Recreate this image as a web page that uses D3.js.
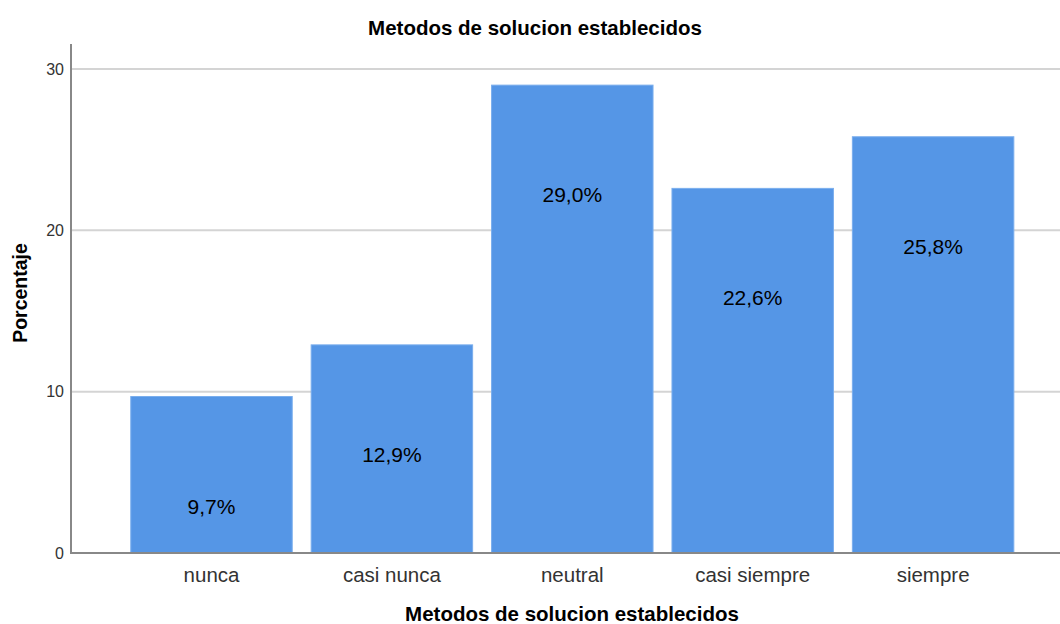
<!DOCTYPE html>
<html>
<head>
<meta charset="utf-8">
<script src="https://cdn.jsdelivr.net/npm/d3@7"></script>
<style>
  body { margin: 0; background: #fff; }
  text { font-family: Arial, "Liberation Sans", sans-serif; }
</style>
</head>
<body>
<div id="chart"></div>
<script>
// chart data
var categories = ["nunca", "casi nunca", "neutral", "casi siempre", "siempre"];
var percents = [9.7, 12.9, 29.0, 22.6, 25.8];
var yTicks = [0, 10, 20, 30];

var width = 1060;
var height = 624;

var svg = d3.select("#chart").append("svg")
    .attr("width", width)
    .attr("height", height);

var plotLeft = 71, plotRight = 1060, plotTop = 44, plotBottom = 553;

var x = d3.scaleBand()
    .domain(categories)
    .range([121.3, 1023.3])
    .paddingInner(0.105)
    .paddingOuter(0.0525);

var y = d3.scaleLinear()
    .domain([0, 30])
    .range([plotBottom, 69]);

// gridlines
svg.append("g")
  .selectAll("line")
  .data(yTicks.filter(function(d) { return d > 0; }))
  .enter()
  .append("line")
  .attr("x1", plotLeft)
  .attr("x2", plotRight)
  .attr("y1", function(d) { return y(d); })
  .attr("y2", function(d) { return y(d); })
  .attr("stroke", "#d4d4d4")
  .attr("stroke-width", 2);

// y axis (labels only, no ticks)
var yAxis = svg.append("g")
  .attr("transform", "translate(" + plotLeft + ",0)")
  .call(d3.axisLeft(y).tickValues(yTicks).tickSize(0).tickPadding(7));
yAxis.select(".domain").remove();
yAxis.selectAll("text")
  .attr("font-size", 16)
  .attr("fill", "#333")
  .style("font-family", "Arial, 'Liberation Sans', sans-serif");

// bars
svg.append("g")
  .selectAll("rect")
  .data(percents)
  .enter()
  .append("rect")
  .attr("x", function(d, i) { return x(categories[i]); })
  .attr("y", function(d) { return y(d); })
  .attr("width", x.bandwidth())
  .attr("height", function(d) { return plotBottom - y(d); })
  .attr("fill", "#5596e6")
  .attr("stroke", "#7aaeed")
  .attr("stroke-width", 1);

// value labels
svg.append("g")
  .selectAll("text")
  .data(percents)
  .enter()
  .append("text")
  .attr("x", function(d, i) { return x(categories[i]) + x.bandwidth() / 2; })
  .attr("y", function(d) { return y(d) + 117; })
  .attr("text-anchor", "middle")
  .attr("font-size", 21)
  .attr("fill", "#000")
  .text(function(d) { return d.toFixed(1).replace(".", ",") + "%"; });

// axis lines
svg.append("line")
  .attr("x1", plotLeft).attr("x2", plotLeft)
  .attr("y1", plotTop).attr("y2", plotBottom)
  .attr("stroke", "#888").attr("stroke-width", 2);
svg.append("line")
  .attr("x1", plotLeft - 1).attr("x2", plotRight)
  .attr("y1", plotBottom).attr("y2", plotBottom)
  .attr("stroke", "#888").attr("stroke-width", 2);

// category labels
var xAxis = svg.append("g")
  .attr("transform", "translate(0," + plotBottom + ")")
  .call(d3.axisBottom(x).tickSize(0).tickPadding(14));
xAxis.select(".domain").remove();
xAxis.selectAll("text")
  .attr("font-size", 20.5)
  .attr("fill", "#333")
  .style("font-family", "Arial, 'Liberation Sans', sans-serif");

// titles
svg.append("text")
  .attr("x", 535).attr("y", 35)
  .attr("text-anchor", "middle")
  .attr("font-size", 20.5).attr("font-weight", "bold")
  .text("Metodos de solucion establecidos");

svg.append("text")
  .attr("x", 572).attr("y", 621)
  .attr("text-anchor", "middle")
  .attr("font-size", 20.5).attr("font-weight", "bold")
  .text("Metodos de solucion establecidos");

svg.append("text")
  .attr("transform", "translate(27,293) rotate(-90)")
  .attr("text-anchor", "middle")
  .attr("font-size", 19.5).attr("font-weight", "bold")
  .text("Porcentaje");
</script>
</body>
</html>
